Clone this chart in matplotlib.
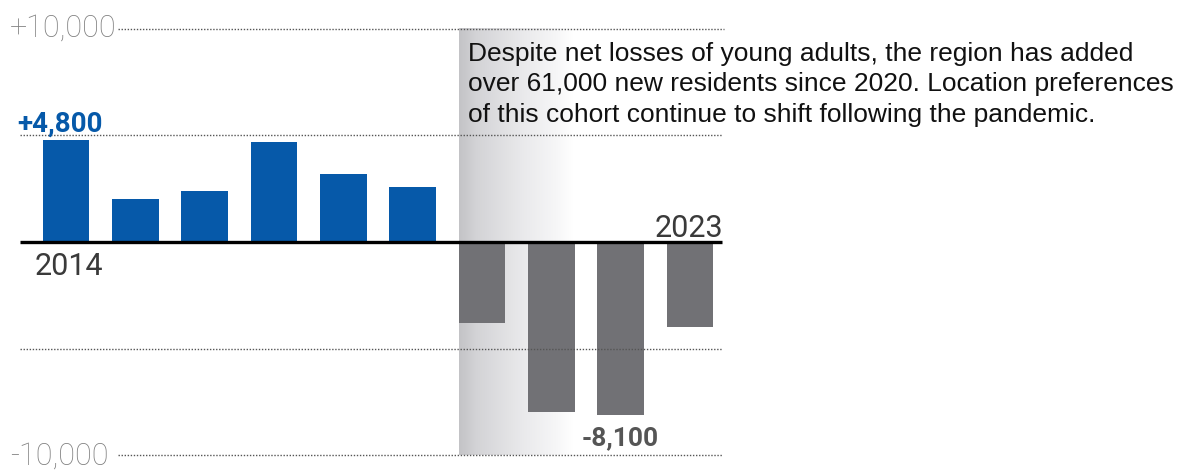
import matplotlib
matplotlib.use("Agg")
import matplotlib.pyplot as plt
import numpy as np
from matplotlib.colors import LinearSegmentedColormap

years = [2014, 2015, 2016, 2017, 2018, 2019, 2020, 2021, 2022, 2023]
values = [4800, 2000, 2400, 4700, 3200, 2600, -3800, -8000, -8100, -4000]
ytick_labels = {10000: "+10,000", -10000: "-10,000"}
note = ("Despite net losses of young adults, the region has added\n"
        "over 61,000 new residents since 2020. Location preferences\n"
        "of this cohort continue to shift following the pandemic.")

W, H = 1197, 470
fig = plt.figure(figsize=(W / 100, H / 100), dpi=100)
ax = fig.add_axes([0, 0, 1, 1])
ax.set_axis_off()

# pixel mapping helpers (layout only)
x0_px, dx_px = 66.0, 69.33
zero_px, per1000 = 242.0, 21.3
ax.set_xlim(-x0_px / dx_px, (W - x0_px) / dx_px)
bottom = -(H - zero_px) / per1000 * 1000
top = zero_px / per1000 * 1000
ax.set_ylim(bottom, top)

def px2x(p):
    return (p - x0_px) / dx_px

def py2y(p):
    return (zero_px - p) / per1000 * 1000

idx = np.arange(len(years))
bw = 0.673
colors = ["#0659a9" if v > 0 else "#717175" for v in values]

# gradient shading after 2020
first_neg = next(i for i, v in enumerate(values) if v < 0)
gx0 = first_neg - bw / 2
gx1 = px2x(572)
grad = np.linspace(0, 1, 256).reshape(1, -1)
cmap = LinearSegmentedColormap.from_list(
    "g", [(0, "#c3c3c6"), (0.15, "#d3d3d6"), (0.55, "#e9e9eb"), (0.85, "#f6f6f7"), (1, "#ffffff")])
ax.imshow(grad, extent=[gx0, gx1, -10000, 10000], aspect="auto", cmap=cmap,
          zorder=0, interpolation="bilinear")

ax.bar(idx, values, width=bw, color=colors, zorder=2)

# dotted grid lines
grid_kw = dict(color="#555555", lw=1.0, ls=(0, (1, 1.2)), zorder=3)
ax.plot([px2x(118), px2x(724)], [10000, 10000], **grid_kw)
ax.plot([px2x(20), px2x(722)], [5000, 5000], **grid_kw)
ax.plot([px2x(20), px2x(722)], [-5000, -5000], **grid_kw)
ax.plot([px2x(118), px2x(722)], [-10000, -10000], **grid_kw)

# zero line
ax.plot([px2x(20), px2x(722)], [0, 0], color="black", lw=2.4, zorder=4,
        solid_capstyle="butt")

light = dict(family="Roboto", fontweight="light", color="#808080", fontsize=22)
ax.text(px2x(10), py2y(37), ytick_labels[10000], ha="left", va="baseline", **light)
ax.text(px2x(10), py2y(465), ytick_labels[-10000], ha="left", va="baseline", **light)

# value labels
ax.text(px2x(17), py2y(132), f"+{values[0]:,}", ha="left", va="baseline",
        family="Roboto", fontweight="bold", color="#0659a9", fontsize=20)
imin = int(np.argmin(values))
ax.text(idx[imin], py2y(445), f"{values[imin]:,}", ha="center", va="baseline",
        family="Roboto", fontweight="bold", color="#555555", fontsize=19)

# year labels
ax.text(px2x(35), py2y(275), str(years[0]), ha="left", va="baseline",
        family="Roboto", color="#3a3a3a", fontsize=22)
ax.text(px2x(723), py2y(237), str(years[-1]), ha="right", va="baseline",
        family="Roboto", color="#3a3a3a", fontsize=22)

# annotation
ax.text(px2x(468), py2y(42), note, ha="left", va="top",
        family="Liberation Sans", color="#111111", fontsize=19, linespacing=1.34,
        zorder=5)

fig.savefig("out.png", dpi=100)
